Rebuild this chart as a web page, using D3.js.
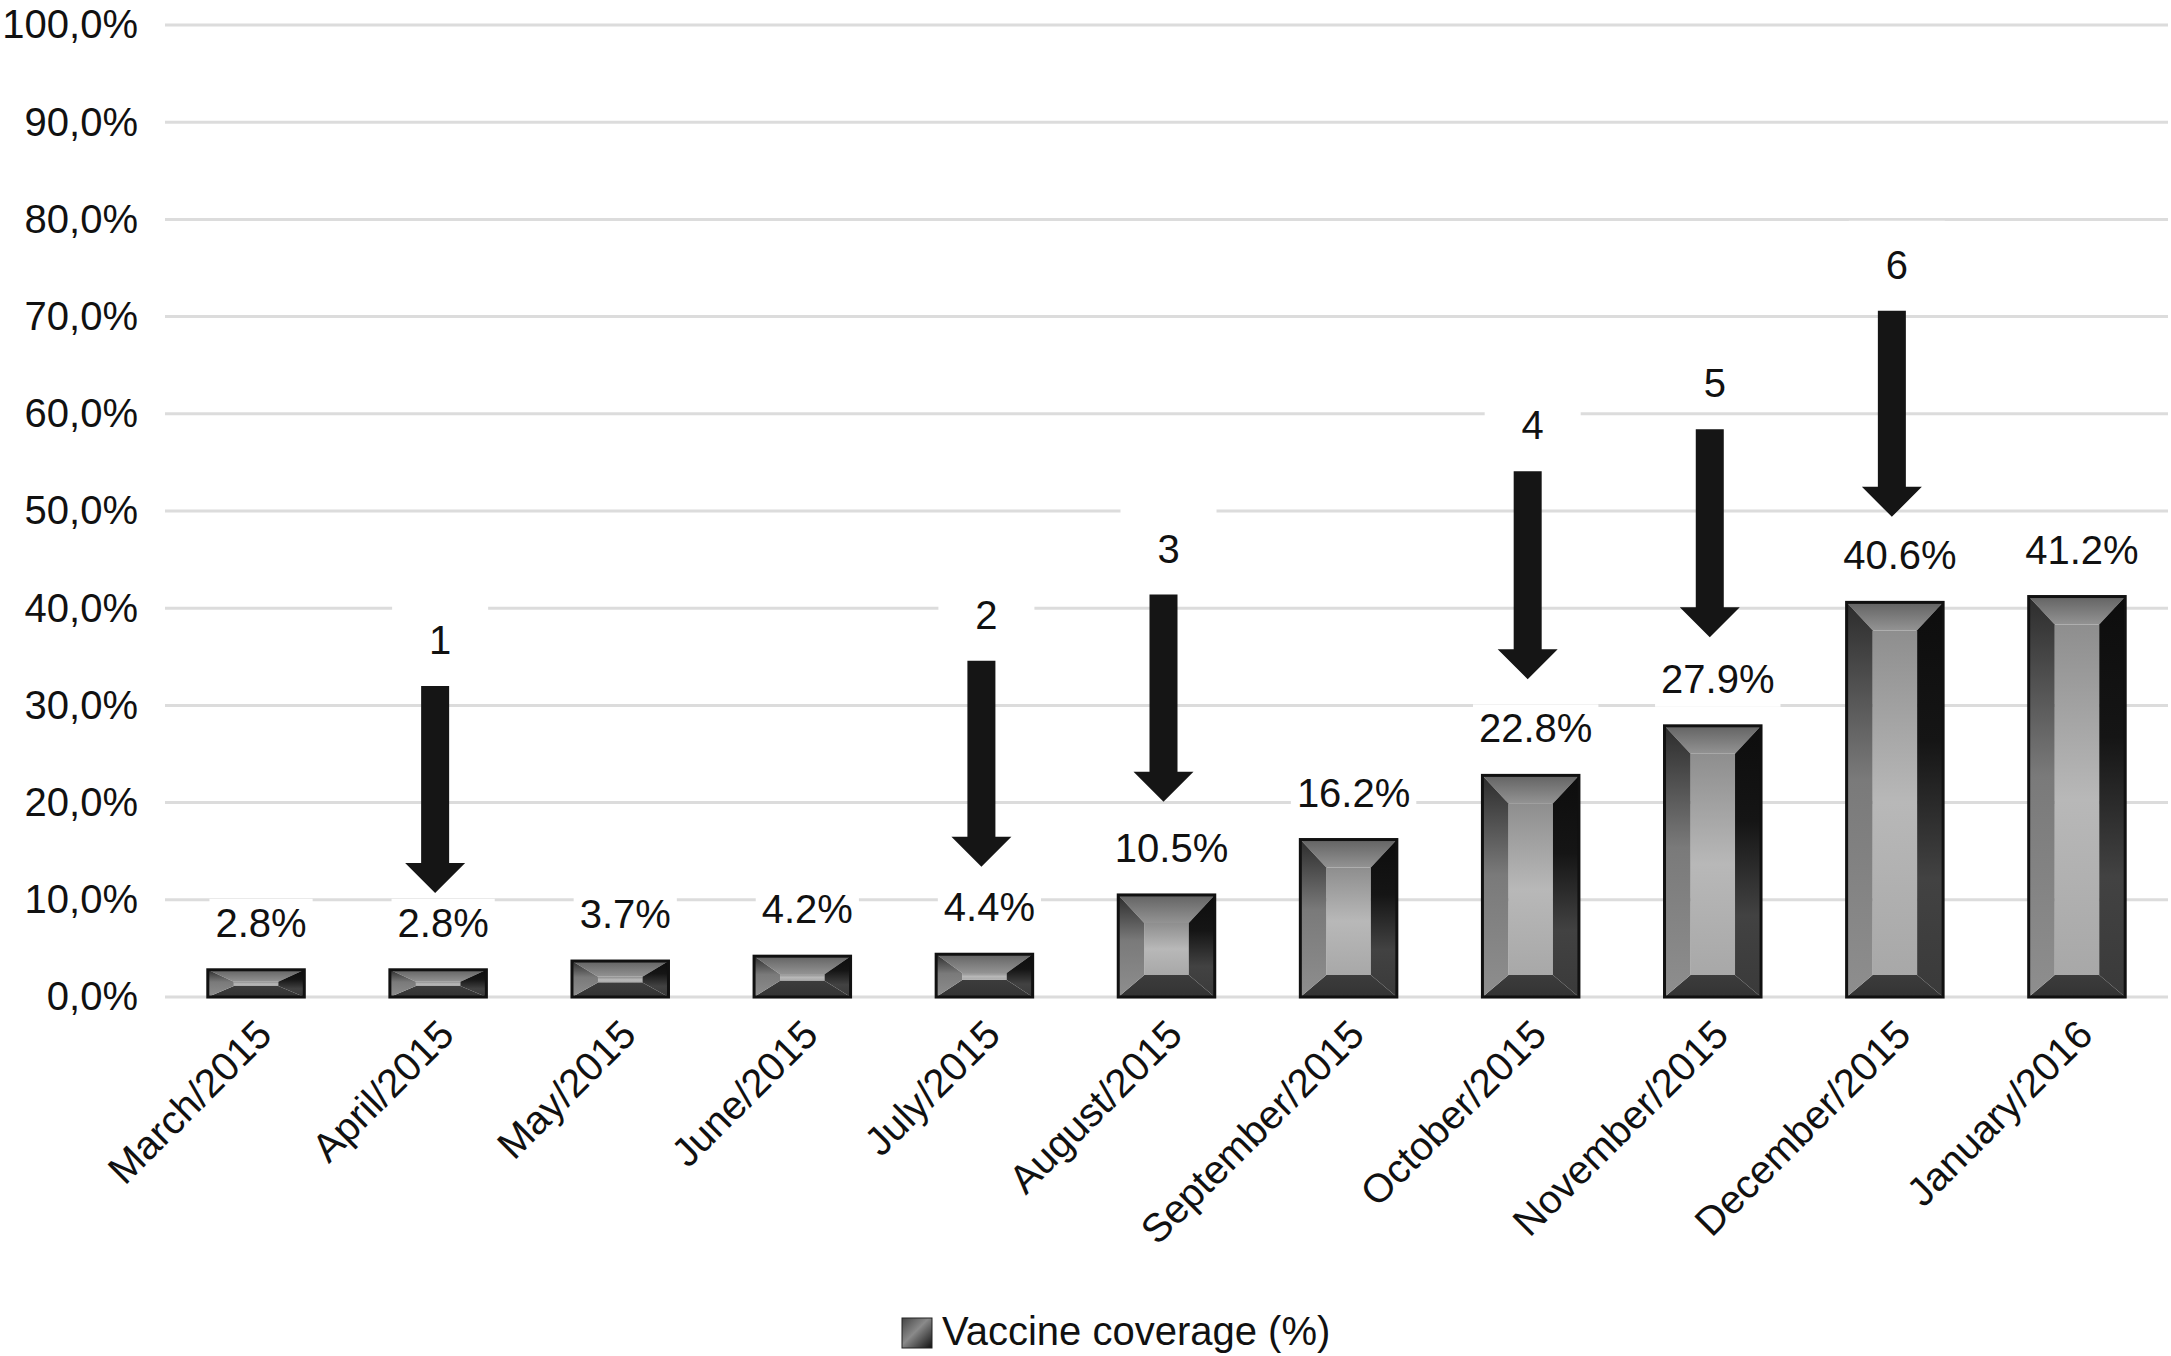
<!DOCTYPE html>
<html>
<head>
<meta charset="utf-8">
<script src="https://cdn.jsdelivr.net/npm/d3@7"></script>
<style>
  body { margin: 0; background: #fff; }
  text { font-family: "Liberation Sans", Arial, Helvetica, sans-serif; fill: #111; }
</style>
</head>
<body>
<svg id="chart" width="2171" height="1356"></svg>
<script>
// chart data
const months = ["March/2015", "April/2015", "May/2015", "June/2015", "July/2015", "August/2015",
  "September/2015", "October/2015", "November/2015", "December/2015", "January/2016"];
const coverage = [2.8, 2.8, 3.7, 4.2, 4.4, 10.5, 16.2, 22.8, 27.9, 40.6, 41.2];
const yTicks = [0, 10, 20, 30, 40, 50, 60, 70, 80, 90, 100];

// numbered arrows (start and end, in %)
const arrowMonths = ["April/2015", "July/2015", "August/2015", "October/2015", "November/2015", "December/2015"];
const arrowLabels = ["1", "2", "3", "4", "5", "6"];
const arrowTop = [32.0, 34.6, 41.4, 54.1, 58.4, 70.6];
const arrowTip = [10.7, 13.4, 20.1, 32.7, 37.0, 49.4];

const legendLabel = "Vaccine coverage (%)";

const svg = d3.select("#chart");
const plotLeft = 165, plotRight = 2168, plotTop = 25, plotBottom = 997;

const x = d3.scaleBand()
    .domain(months)
    .range([plotLeft, plotRight])
    .paddingInner(0.47)
    .paddingOuter(0.235);

const y = d3.scaleLinear()
    .domain([0, 100])
    .range([plotBottom, plotTop]);

const fmt = d => d.toFixed(1).replace(".", ",") + "%";

// gradients for the bevelled bars
const defs = svg.append("defs");
function vgrad(id, stops) {
    const g = defs.append("linearGradient").attr("id", id)
        .attr("x1", 0).attr("y1", 0).attr("x2", 0).attr("y2", 1);
    stops.forEach(s => g.append("stop").attr("offset", s[0]).attr("stop-color", s[1]));
}
vgrad("gTop", [[0, "#636363"], [1, "#939393"]]);
vgrad("gLeft", [[0, "#2c2c2c"], [0.45, "#7a7a7a"], [1, "#8e8e8e"]]);
vgrad("gRight", [[0, "#0d0d0d"], [0.35, "#151515"], [0.7, "#424242"], [1, "#3a3a3a"]]);
vgrad("gMid", [[0, "#8e8e8e"], [0.5, "#b8b8b8"], [1, "#a8a8a8"]]);
vgrad("gBottom", [[0, "#3c3c3c"], [1, "#333"]]);
const sw = defs.append("linearGradient").attr("id", "gSwatch")
    .attr("x1", 0).attr("y1", 0).attr("x2", 1).attr("y2", 1);
sw.append("stop").attr("offset", 0).attr("stop-color", "#444");
sw.append("stop").attr("offset", 0.45).attr("stop-color", "#8a8a8a");
sw.append("stop").attr("offset", 1).attr("stop-color", "#111");

// gridlines
svg.append("g").selectAll("line")
    .data(yTicks)
    .join("line")
    .attr("x1", plotLeft)
    .attr("x2", plotRight)
    .attr("y1", d => y(d))
    .attr("y2", d => y(d))
    .attr("stroke", "#dcdcdc")
    .attr("stroke-width", 3);

// y axis labels
const yAxis = svg.append("g")
    .attr("transform", `translate(${plotLeft},0)`)
    .call(d3.axisLeft(y).tickValues(yTicks).tickFormat(fmt).tickSize(0).tickPadding(27));
yAxis.select(".domain").remove();
yAxis.selectAll("text")
    .style("font-size", "40px")
    .style("font-family", "'Liberation Sans', Arial, sans-serif")
    .attr("fill", "#111");

// x axis labels
const xAxis = svg.append("g")
    .attr("transform", `translate(0,${plotBottom})`)
    .call(d3.axisBottom(x).tickSize(0).tickPadding(0));
xAxis.select(".domain").remove();
xAxis.selectAll("text")
    .style("font-size", "40px")
    .style("font-family", "'Liberation Sans', Arial, sans-serif")
    .attr("fill", "#111")
    .attr("text-anchor", "end")
    .attr("dy", 0)
    .attr("y", 0)
    .attr("transform", "translate(18,40) rotate(-45)");

// value labels with white boxes that hide the gridlines
const valueG = svg.append("g");
months.forEach((m, i) => {
    const cx = x(m) + x.bandwidth() / 2 + 5;
    const by = y(coverage[i]) - 33;
    const t = valueG.append("text")
        .attr("x", cx)
        .attr("y", by)
        .attr("text-anchor", "middle")
        .style("font-size", "40px")
        .text(coverage[i].toFixed(1) + "%");
    const bb = t.node().getBBox();
    valueG.insert("rect", "text")
        .attr("x", bb.x - 6)
        .attr("y", bb.y - 2)
        .attr("width", bb.width + 12)
        .attr("height", bb.height + 8)
        .attr("fill", "#fff");
});

// bars drawn as bevelled boxes
const bars = svg.append("g");
months.forEach((m, i) => {
    const x0 = x(m), x1 = x(m) + x.bandwidth();
    const y0 = y(coverage[i]), y1 = y(0);
    const h = y1 - y0;
    const bs = Math.min(26, x.bandwidth() / 2);
    const bt = Math.min(28, h * 0.44);
    const bb = Math.min(22, h * 0.4);
    const g = bars.append("g");
    const poly = (pts, fill) => g.append("polygon")
        .attr("points", pts.map(p => p.join(",")).join(" "))
        .attr("fill", fill);
    g.append("rect")
        .attr("x", x0 + bs).attr("y", y0 + bt)
        .attr("width", x1 - x0 - 2 * bs)
        .attr("height", Math.max(0, h - bt - bb))
        .attr("fill", "url(#gMid)");
    poly([[x0, y0], [x1, y0], [x1 - bs, y0 + bt], [x0 + bs, y0 + bt]], "url(#gTop)");
    poly([[x0, y1], [x1, y1], [x1 - bs, y1 - bb], [x0 + bs, y1 - bb]], "url(#gBottom)");
    poly([[x0, y0], [x0 + bs, y0 + bt], [x0 + bs, y1 - bb], [x0, y1]], "url(#gLeft)");
    poly([[x1, y0], [x1 - bs, y0 + bt], [x1 - bs, y1 - bb], [x1, y1]], "url(#gRight)");
    g.append("rect")
        .attr("x", x0).attr("y", y0)
        .attr("width", x1 - x0).attr("height", h)
        .attr("fill", "none")
        .attr("stroke", "#111")
        .attr("stroke-width", 3);
});

// arrows and their numbers
const arrows = svg.append("g");
arrowMonths.forEach((m, i) => {
    const cx = x(m) + x.bandwidth() / 2 - 3;
    const yt = y(arrowTop[i]), yp = y(arrowTip[i]);
    const sh = 14, hw = 30, hh = 30;
    const path = d3.path();
    path.moveTo(cx - sh, yt);
    path.lineTo(cx + sh, yt);
    path.lineTo(cx + sh, yp - hh);
    path.lineTo(cx + hw, yp - hh);
    path.lineTo(cx, yp);
    path.lineTo(cx - hw, yp - hh);
    path.lineTo(cx - sh, yp - hh);
    path.closePath();
    const ly = yt - 32;
    arrows.append("rect")
        .attr("x", cx + 5 - 48)
        .attr("y", ly - 58)
        .attr("width", 96)
        .attr("height", 64)
        .attr("fill", "#fff");
    arrows.append("text")
        .attr("x", cx + 5)
        .attr("y", ly)
        .attr("text-anchor", "middle")
        .style("font-size", "40px")
        .text(arrowLabels[i]);
    arrows.append("path")
        .attr("d", path.toString())
        .attr("fill", "#151515");
});

// legend
const legend = svg.append("g").attr("transform", "translate(902,1318)");
legend.append("rect")
    .attr("width", 30).attr("height", 30)
    .attr("fill", "url(#gSwatch)")
    .attr("stroke", "#222")
    .attr("stroke-width", 1);
legend.append("text")
    .attr("x", 40)
    .attr("y", 27)
    .style("font-size", "40px")
    .text(legendLabel);
</script>
</body>
</html>
